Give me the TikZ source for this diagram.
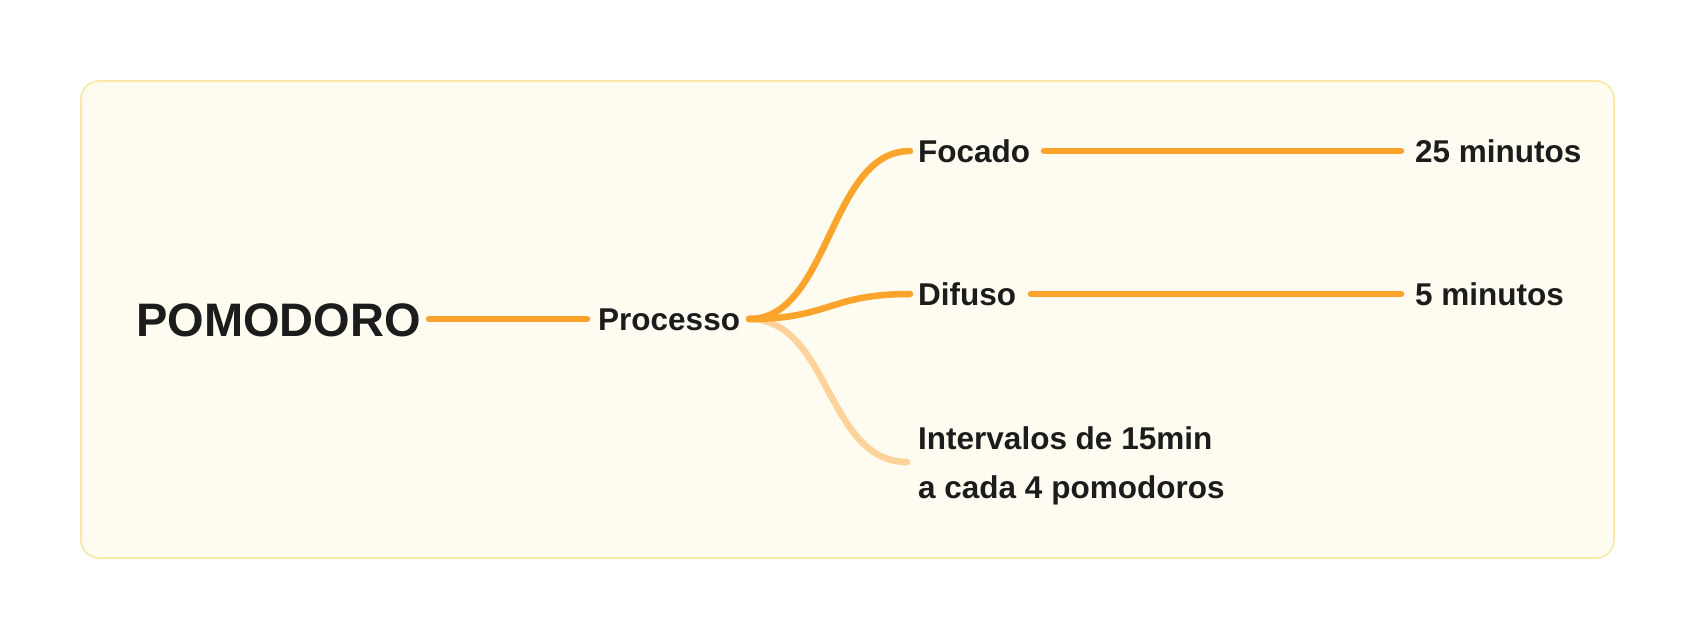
\documentclass[tikz,border=0pt]{standalone}
\usepackage{fontspec}
\setmainfont{Liberation Sans}
\definecolor{orng}{HTML}{FBA42B}
\definecolor{orngpale}{HTML}{FDD29B}
\definecolor{framefill}{HTML}{FEFCF0}
\definecolor{frameline}{HTML}{FAE9A6}
\definecolor{txt}{HTML}{1C1C1C}
\tikzset{
  lbl/.style={inner sep=0pt, text=txt, font=\bfseries\fontsize{31.5}{36}\selectfont},
  conn/.style={draw=orng, line width=6.5pt, line cap=round},
  connpale/.style={draw=orngpale, line width=6.5pt, line cap=round},
}
\begin{document}
\begin{tikzpicture}[x=1pt,y=-1pt]
\useasboundingbox (0,0) rectangle (1696,640);
\fill[white] (0,0) rectangle (1696,640);
\draw[frameline, fill=framefill, line width=1.6pt, rounded corners=18pt] (81,81) rectangle (1614,558);

\node[lbl, font=\bfseries\fontsize{47}{52}\selectfont, anchor=west] (pomo) at (136,320) {POMODORO};
\node[lbl, anchor=west] (proc) at (598,320) {Processo};
\node[lbl, anchor=west] (foc) at (918,151) {Focado};
\node[lbl, anchor=west] (dif) at (918,294) {Difuso};
\node[lbl, anchor=west] (m25) at (1415,151) {25 minutos};
\node[lbl, anchor=west] (m5) at (1415,294) {5 minutos};
\node[lbl, anchor=north west, align=left, font=\bfseries\fontsize{31.5}{49}\selectfont] (intv) at (918,426) {Intervalos de 15min\\a cada 4 pomodoros};

\coordinate (o) at (749,319);
\coordinate (pin) at (429,319);
\coordinate (pout) at (587,319);
\coordinate (fin) at (910,151);
\coordinate (din) at (910,294);
\coordinate (iin) at (907,462);
\coordinate (fout) at (1044,151);
\coordinate (fend) at (1401,151);
\coordinate (dout) at (1031,294);
\coordinate (dend) at (1401,294);

\draw[conn] (pin) -- (pout);
\draw[connpale] (o) .. controls (830,319) and (826,462) .. (iin);
\draw[conn] (o) .. controls (830,319) and (829,151) .. (fin);
\draw[conn] (o) .. controls (830,319) and (829,294) .. (din);
\draw[conn] (fout) -- (fend);
\draw[conn] (dout) -- (dend);
\end{tikzpicture}
\end{document}
